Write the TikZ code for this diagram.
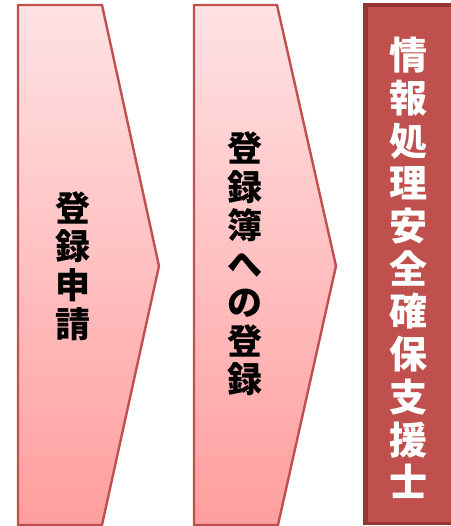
\documentclass[tikz,border=0pt]{standalone}
\usepackage{fontspec}
\newfontfamily\cjk{Noto Sans CJK JP}
\definecolor{edgered}{HTML}{C0504D}
\definecolor{darkred}{HTML}{943634}
\definecolor{toppink}{HTML}{FFE2E4}
\definecolor{botpink}{HTML}{FF9E9E}
\tikzset{
  chev/.style={draw=edgered, line width=2.4pt, line join=miter, top color=toppink, bottom color=botpink},
  vtextb/.style={align=center, inner sep=0pt, font=\cjk\bfseries\fontsize{35}{38.5}\selectfont, text=black},
  vtextw/.style={align=center, inner sep=0pt, font=\cjk\bfseries\fontsize{38}{42.7}\selectfont, text=white}
}
\begin{document}
\begin{tikzpicture}[x=1pt,y=-1pt]
\useasboundingbox (0,0) rectangle (450,526);
% chevrons
\draw[chev] (18,5) -- (102,5) -- (159,266) -- (102,525) -- (18,525) -- cycle;
\draw[chev] (194,5) -- (277,5) -- (336,266) -- (278,525) -- (194,525) -- cycle;
% right box
\fill[darkred] (363,3) rectangle (452,525);
\fill[edgered] (368,7) rectangle (452,522);
% texts
\node[vtextb] (t1) at (73,266) {登\\録\\申\\請};
\node[vtextb] (t2) at (245,264) {登\\録\\簿\\へ\\の\\登\\録};
\node[vtextw] (t3) at (408,268) {情\\報\\処\\理\\安\\全\\確\\保\\支\\援\\士};
\end{tikzpicture}
\end{document}
